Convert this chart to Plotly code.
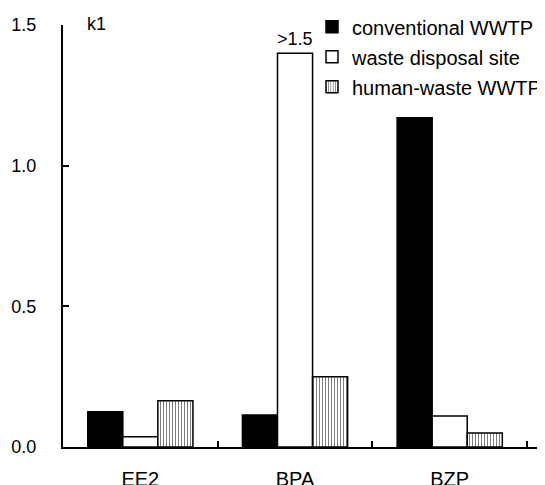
import plotly.graph_objects as go

categories = ["EE2", "BPA", "BZP"]
conventional = [0.125, 0.114, 1.17]
waste_disposal = [0.036, 1.40, 0.11]
human_waste = [0.164, 0.25, 0.05]
series_names = ["conventional WWTP", "waste disposal site", "human-waste WWTP"]
y_ticks = [0.0, 0.5, 1.0, 1.5]
y_tick_labels = ["0.0", "0.5", "1.0", "1.5"]

FONT = "Liberation Sans, Arial, sans-serif"

fig = go.Figure()
fig.add_trace(go.Bar(x=categories, y=conventional, name=series_names[0], legendgroup="a",
                     marker=dict(color="black", line=dict(color="black", width=1.5))))
fig.add_trace(go.Bar(x=categories, y=waste_disposal, name=series_names[1], legendgroup="b",
                     marker=dict(color="white", line=dict(color="black", width=1.5))))
fig.add_trace(go.Bar(x=categories, y=human_waste, name=series_names[2], legendgroup="c",
                     marker=dict(color="white", line=dict(color="black", width=1.5),
                                 pattern=dict(shape="|", fgcolor="black", bgcolor="white",
                                              size=3, solidity=0.35))))

fig.add_annotation(x=0, xref="paper", xshift=22, y=1.5, yref="y", yshift=1, text="k1",
                   showarrow=False, xanchor="left", yanchor="middle",
                   font=dict(size=18, color="black", family=FONT))
fig.add_annotation(x="BPA", y=1.40, text=">1.5", showarrow=False,
                   yanchor="bottom", yshift=2,
                   font=dict(size=18, color="black", family=FONT))

fig.update_layout(
    width=545, height=485,
    margin=dict(l=55, r=8, t=17, b=46, autoexpand=False),
    paper_bgcolor="white", plot_bgcolor="white",
    barmode="group", bargap=0.32, bargroupgap=0,
    font=dict(family=FONT, size=18, color="black"),
    showlegend=True,
    legend=dict(x=0.5166, y=1.042, xanchor="left", yanchor="top",
                bgcolor="rgba(0,0,0,0)", font=dict(size=20, family=FONT),
                itemwidth=30, tracegroupgap=1),
    xaxis=dict(range=[-0.5, 2.616], showline=True, linecolor="black", linewidth=2,
               ticks="inside", tickson="boundaries", ticklen=6, tickwidth=2,
               tickcolor="black", showgrid=False, zeroline=False,
               ticklabelstandoff=13, tickfont=dict(size=20)),
    yaxis=dict(range=[0, 1.5], tickvals=y_ticks, ticktext=y_tick_labels,
               showline=True, linecolor="black", linewidth=2, ticks="inside",
               ticklen=6, tickwidth=2, tickcolor="black", showgrid=False,
               zeroline=False, ticklabelstandoff=21, tickfont=dict(size=18)),
)

fig.write_html("out.html")
